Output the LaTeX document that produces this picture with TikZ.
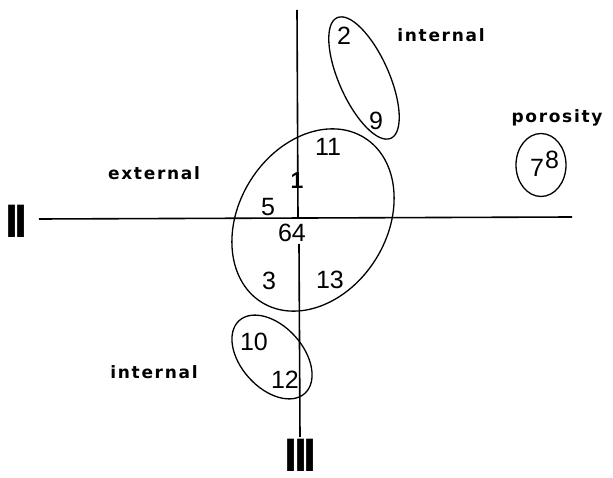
\documentclass[tikz,border=0pt]{standalone}
\usepackage{fontspec}
\setmainfont{Liberation Sans}
\newfontfamily\labfont{DejaVu Sans Bold}[LetterSpace=10]
\newfontfamily\romfont{Liberation Sans Bold}
\usetikzlibrary{shapes.geometric}
\begin{document}
\begin{tikzpicture}[x=1pt,y=-1pt,
  axis/.style={line width=1.6pt},
  grp/.style={draw,ellipse,line width=1.3pt,inner sep=0pt},
  num/.style={font=\fontsize{25}{25}\selectfont,inner sep=0pt},
  lab/.style={font=\labfont\fontsize{17}{17}\selectfont,inner sep=0pt},
  rom/.style={font=\romfont\fontsize{47}{47}\selectfont,inner sep=0pt}]
\useasboundingbox (0,0) rectangle (613,478);
% axes
\coordinate (vt) at (297,10);
\coordinate (vm) at (298,218);
\coordinate (vb1) at (299,244);
\coordinate (vb) at (300,437);
\coordinate (hl) at (39,219);
\coordinate (hr) at (572,217);
\draw[axis] (hl) -- (hr);
\draw[axis] (vt) -- (vm);
\draw[axis] (vb1) -- (vb);
% groups
\node[grp,minimum width=194pt,minimum height=148pt,rotate=58] (big) at (313,220) {};
\node[grp,minimum width=132pt,minimum height=50pt,rotate=-66] (top) at (364,78) {};
\node[grp,minimum width=98pt,minimum height=62pt,rotate=-48] (bot) at (272,357) {};
\node[grp,minimum width=50pt,minimum height=63pt] (por) at (541,165) {};
% numbers
\node[num] (n2) at (344,36) {2};
\node[num] (n9) at (376,121) {9};
\node[num] (n11) at (328,147) {11};
\node[num,font=\romfont\fontsize{23}{23}\selectfont] (n1) at (297,181) {1};
\node[num] (n5) at (268,207) {5};
\node[num] (n64) at (292,233) {64};
\node[num] (n3) at (269,281) {3};
\node[num] (n13) at (330,280) {13};
\node[num] (n10) at (254,342) {10};
\node[num] (n12) at (285,380) {12};
\node[num] (n7) at (537,168) {7};
\node[num] (n8) at (552,160) {8};
% labels
\node[lab] (lint1) at (441,35) {internal};
\node[lab] (lext) at (154,173) {external};
\node[lab] (lint2) at (154,372) {internal};
\node[lab] (lpor) at (557,118) {porosity};
\node[rom] (rII) at (16.5,221) {I\kern-4pt I};
\node[rom] (rIII) at (300.5,455) {I\kern-3.5pt I\kern-3.5pt I};
\end{tikzpicture}
\end{document}
